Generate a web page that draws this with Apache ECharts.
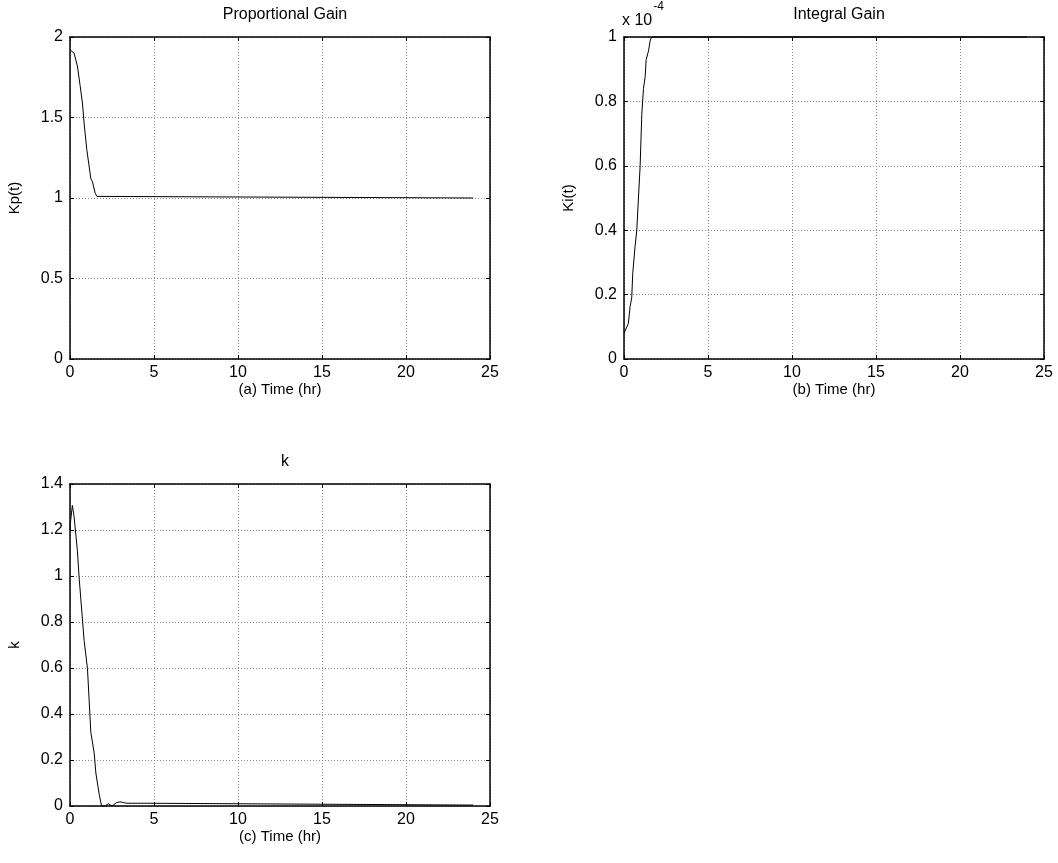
<!DOCTYPE html>
<html>
<head>
<meta charset="utf-8">
<script src="https://cdn.jsdelivr.net/npm/echarts@6/dist/echarts.min.js"></script>
<style>
  html, body { margin: 0; padding: 0; background: #fff; }
  #chart { width: 1058px; height: 863px; }
</style>
</head>
<body>
<div id="chart"></div>
<script>
// Proportional gain Kp(t)
const kpTime   = [0, 0.1, 0.24, 0.44, 0.6, 0.74, 0.84, 1.0, 1.24, 1.34, 1.5, 1.6, 1.7, 24];
const kpValues = [1.92, 1.915, 1.9, 1.82, 1.7, 1.59, 1.465, 1.3, 1.12, 1.10, 1.03, 1.01, 1.0, 1.0];

// Integral gain Ki(t), in units of 1e-4
const kiTime      = [0, 0.06, 0.26, 0.36, 0.46, 0.52, 0.66, 0.76, 0.96, 1.06, 1.16, 1.26, 1.32, 1.46, 1.56, 1.66, 24];
const kiValuesE4  = [0.08, 0.087, 0.11, 0.162, 0.19, 0.266, 0.35, 0.40, 0.60, 0.76, 0.84, 0.877, 0.93, 0.957, 0.99, 1.0, 1.0];

// Gain k
const kTime   = [0, 0.04, 0.14, 0.24, 0.44, 0.54, 0.84, 1.04, 1.24, 1.34, 1.44, 1.54, 1.74, 1.88, 2.08, 2.28, 2.5, 2.78, 2.98, 3.18, 3.38, 4.58, 4.68, 24];
const kValues = [1.2, 1.242, 1.307, 1.26, 1.11, 0.996, 0.72, 0.597, 0.32, 0.315, 0.23, 0.143, 0.05, 0.0, 0.0, 0.01, 0.0, 0.015, 0.018, 0.015, 0.012, 0.012, 0.005, 0.004];

const panelTitles = ['Proportional Gain', 'Integral Gain', 'k'];
const xNames = ['(a) Time (hr)', '(b) Time (hr)', '(c) Time (hr)'];
const yNames = ['Kp(t)', 'Ki(t)', 'k'];
const yMax = [2, 1, 1.4];
const yStep = [0.5, 0.2, 0.2];
const xMax = 25, xStep = 5;

const FONT = 'Liberation Sans, Arial, sans-serif';
const grids = [
  { left: 70,  top: 37,  width: 420, height: 322 },
  { left: 624, top: 37,  width: 420, height: 322 },
  { left: 70,  top: 484, width: 420, height: 322 }
];

const pairs = (ts, vs) => ts.map((t, i) => [t, vs[i]]);
const seriesData = [pairs(kpTime, kpValues), pairs(kiTime, kiValuesE4), pairs(kTime, kValues)];

const blackLine = { show: true, onZero: false, lineStyle: { color: '#000', width: 1.5 } };
const gridLine = { show: true, lineStyle: { color: '#888', width: 1, type: [1, 2] } };
const tickIn = { show: true, inside: true, length: 4, lineStyle: { color: '#000' } };

const xAxes = [], yAxes = [], series = [], titles = [];
grids.forEach((g, i) => {
  // bottom x axis with labels
  xAxes.push({
    gridIndex: i, type: 'value', position: 'bottom', min: 0, max: xMax, interval: xStep,
    axisLine: blackLine, axisTick: tickIn, splitLine: gridLine,
    axisLabel: { color: '#000', fontFamily: FONT, fontSize: 16, margin: 6 },
    name: xNames[i], nameLocation: 'middle', nameGap: 14,
    nameTextStyle: { color: '#000', fontFamily: FONT, fontSize: 15, verticalAlign: 'top' }
  });
  // top x axis: box edge and ticks only
  xAxes.push({
    gridIndex: i, type: 'value', position: 'top', min: 0, max: xMax, interval: xStep,
    axisLine: blackLine, axisTick: tickIn, splitLine: { show: false }, axisLabel: { show: false }
  });
  yAxes.push({
    gridIndex: i, type: 'value', position: 'left', min: 0, max: yMax[i], interval: yStep[i],
    axisLine: blackLine, axisTick: tickIn, splitLine: gridLine,
    axisLabel: { color: '#000', fontFamily: FONT, fontSize: 16, margin: 7,
      formatter: v => String(Math.round(v * 100) / 100) },
    name: yNames[i], nameLocation: 'middle', nameGap: 48, nameRotate: 90,
    nameTextStyle: { color: '#000', fontFamily: FONT, fontSize: 15 }
  });
  yAxes.push({
    gridIndex: i, type: 'value', position: 'right', min: 0, max: yMax[i], interval: yStep[i],
    axisLine: blackLine, axisTick: tickIn, splitLine: { show: false }, axisLabel: { show: false }
  });
  series.push({
    type: 'line', xAxisIndex: 2 * i, yAxisIndex: 2 * i, data: seriesData[i],
    showSymbol: false, symbol: 'none', clip: false,
    lineStyle: { color: '#000', width: 1 }, z: 1
  });
  titles.push({
    text: panelTitles[i], left: g.left + g.width / 2, top: g.top - 35, textAlign: 'center',
    textStyle: { color: '#000', fontFamily: FONT, fontSize: 16, fontWeight: 'normal' }
  });
});

const chart = echarts.init(document.getElementById('chart'), null, { renderer: 'canvas' });
chart.setOption({
  backgroundColor: '#fff',
  animation: false,
  title: titles,
  grid: grids,
  xAxis: xAxes,
  yAxis: yAxes,
  series: series,
  graphic: [{
    type: 'text', left: 622, top: 1,
    style: {
      text: '{b|x 10}{s|-4}',
      rich: {
        b: { fontFamily: FONT, fontSize: 16, fill: '#000', padding: [12, 0, 0, 0] },
        s: { fontFamily: FONT, fontSize: 12, fill: '#000', verticalAlign: 'top', padding: [0, 0, 12, 1] }
      }
    }
  }]
});
</script>
</body>
</html>
